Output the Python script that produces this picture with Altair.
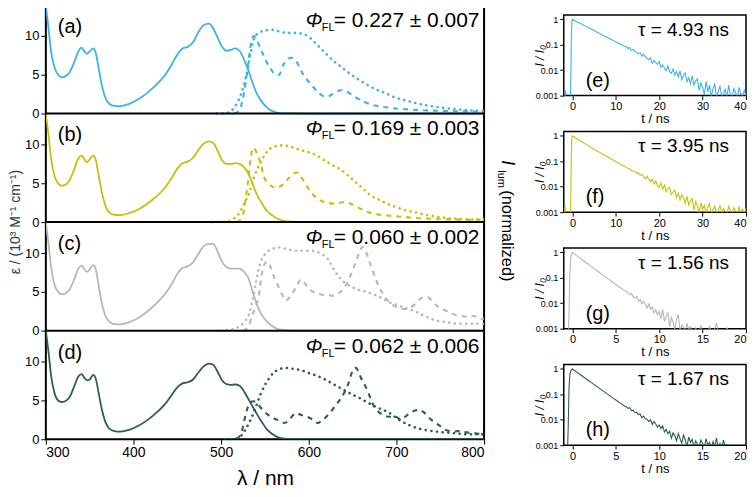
import altair as alt
import pandas as pd

FONT = "Liberation Sans"

# ---------------- absorption (shared wavelength grid) ----------------
ABS_NM = [300, 303, 306, 310, 314, 318, 322, 327, 333, 337,
          341, 344, 347, 350, 354, 357, 360, 364, 368, 372,
          378, 385, 395, 405, 415, 425, 435, 443, 450, 456,
          462, 468, 474, 480, 486, 491, 496, 501, 506, 511,
          516, 521, 526, 531, 536, 541, 546, 552, 558, 565,
          575, 600, 800]
abs_a = [14.0, 11.0, 8.0, 5.9, 5.0, 4.7, 4.8, 5.3, 6.8, 8.0,
         8.5, 8.0, 7.7, 8.0, 8.4, 7.8, 6.0, 3.6, 2.0, 1.3,
         1.0, 0.95, 1.25, 1.8, 2.6, 3.6, 4.8, 6.2, 7.6, 8.4,
         8.6, 9.2, 10.5, 11.4, 11.6, 11.0, 9.8, 8.6, 8.1, 8.2,
         8.4, 8.1, 7.0, 5.6, 3.9, 2.5, 1.6, 0.8, 0.35, 0.1,
         0.02, 0, 0]
abs_b = [14.0, 11.3, 8.2, 5.9, 5.0, 4.7, 4.8, 5.4, 7.0, 8.2,
         8.6, 8.1, 7.7, 8.1, 8.6, 8.0, 6.2, 3.8, 2.1, 1.3,
         0.95, 0.9, 1.15, 1.6, 2.3, 3.2, 4.3, 5.6, 6.9, 7.6,
         7.8, 8.3, 9.3, 10.1, 10.4, 10.2, 9.2, 8.0, 7.5, 7.5,
         7.6, 7.5, 7.1, 6.3, 4.9, 3.5, 2.5, 1.5, 0.9, 0.4,
         0.1, 0.01, 0]
abs_c = [14.0, 11.3, 8.2, 5.9, 5.0, 4.7, 4.8, 5.3, 6.8, 8.0,
         8.4, 7.9, 7.6, 7.9, 8.45, 7.9, 6.0, 3.5, 1.9, 1.2,
         0.85, 0.8, 1.1, 1.6, 2.4, 3.4, 4.6, 5.9, 7.3, 8.1,
         8.3, 8.8, 9.9, 10.9, 11.2, 11.2, 10.2, 8.9, 8.2, 8.0,
         8.0, 8.0, 7.6, 6.8, 5.0, 3.3, 2.1, 1.2, 0.6, 0.2,
         0.05, 0, 0]
abs_d = [14.0, 11.3, 8.2, 5.9, 5.0, 4.8, 4.9, 5.4, 7.0, 8.1,
         8.4, 7.9, 7.6, 7.7, 8.3, 7.8, 6.1, 3.8, 2.2, 1.4,
         1.05, 0.97, 1.2, 1.7, 2.4, 3.3, 4.4, 5.6, 6.7, 7.2,
         7.35, 7.7, 8.6, 9.4, 9.75, 9.6, 8.7, 7.6, 7.1, 7.0,
         7.06, 6.9, 6.2, 5.2, 4.2, 3.2, 2.3, 1.3, 0.7, 0.25,
         0.05, 0, 0]

# ---------------- emission (dotted) ----------------
dot_a_nm = [495, 505, 512, 518, 522, 526, 530, 534, 538, 543, 550, 558, 566, 575, 585,
            595, 603, 610, 618, 626, 635, 644, 654, 664, 675, 686, 698, 710, 722, 735,
            748, 760, 772, 785, 800]
dot_a = [0, 0.05, 0.4, 1.3, 2.3, 3.7, 5.6, 8.0, 9.8, 10.4, 10.7, 10.8, 10.6, 10.4, 10.4,
         10.2, 9.6, 8.8, 7.9, 7.0, 6.2, 5.4, 4.6, 3.9, 3.2, 2.7, 2.1, 1.7, 1.35, 1.05,
         0.8, 0.65, 0.5, 0.4, 0.3]
dot_b_nm = [490, 505, 512, 518, 523, 527, 532, 537, 541, 545, 550, 556, 563, 570, 577,
            585, 594, 603, 612, 620, 628, 636, 645, 655, 663, 670, 680, 689, 698, 708,
            720, 731, 743, 754, 765, 776, 788, 800]
dot_b = [0, 0.05, 0.3, 0.8, 1.6, 2.6, 3.7, 5.6, 6.8, 7.7, 8.7, 9.5, 9.8, 9.9, 9.8,
         9.5, 9.2, 8.9, 8.4, 7.8, 7.3, 6.8, 6.0, 5.0, 4.2, 3.5, 2.9, 2.4, 2.0, 1.6,
         1.3, 1.0, 0.75, 0.55, 0.45, 0.38, 0.34, 0.32]
dot_c_nm = [500, 510, 520, 527, 532, 536, 540, 545, 551, 558, 564, 572, 580, 588, 596,
            604, 611, 617, 622, 628, 634, 641, 648, 656, 663, 671, 678, 686, 693, 701,
            708, 716, 723, 734, 746, 757, 768, 780, 795, 800]
dot_c = [0, 0.1, 0.5, 1.2, 2.2, 4.0, 6.4, 8.8, 10.0, 10.5, 10.75, 10.6, 10.4, 10.3, 10.3,
         10.3, 10.1, 9.7, 9.2, 8.0, 7.0, 6.2, 5.7, 5.3, 5.1, 4.8, 4.5, 4.0, 3.6, 3.3,
         3.0, 2.7, 2.4, 1.8, 1.3, 1.1, 0.9, 0.9, 0.9, 0.9]
dot_d_nm = [505, 513, 519, 524, 529, 534, 540, 545, 550, 555, 560, 566, 573, 580, 587,
            594, 601, 609, 617, 625, 633, 641, 649, 658, 666, 674, 682, 692, 703, 715,
            728, 741, 752, 763, 774, 785, 794, 800]
dot_d = [0, 0.05, 0.15, 0.6, 1.5, 2.6, 4.3, 5.8, 7.0, 7.9, 8.6, 9.0, 9.2, 9.1, 9.0,
         8.8, 8.5, 8.2, 7.8, 7.3, 6.8, 6.3, 5.8, 5.3, 4.8, 4.3, 3.9, 3.4, 2.5, 1.8,
         1.3, 1.05, 0.9, 0.8, 0.7, 0.63, 0.63, 0.63]

# ---------------- emission (dashed) ----------------
dash_a_nm = [515, 520, 524, 528, 531, 534, 537, 540, 544, 548, 552, 556, 561, 566, 571,
             576, 580, 585, 590, 595, 600, 606, 612, 618, 624, 630, 636, 642, 648, 655,
             662, 670, 680, 692, 705, 720, 735, 750, 765, 780, 800]
dash_a = [0, 0.3, 1.5, 4.0, 6.5, 9.0, 10.0, 9.7, 8.6, 7.6, 6.6, 5.9, 5.1, 5.0, 6.3,
          7.0, 7.2, 6.9, 5.8, 4.8, 4.1, 3.3, 2.6, 2.2, 2.3, 2.7, 3.0, 2.9, 2.5, 2.0,
          1.6, 1.2, 0.95, 0.75, 0.6, 0.5, 0.4, 0.35, 0.3, 0.28, 0.25]
dash_b_nm = [518, 524, 528, 531, 534, 537, 541, 545, 549, 554, 560, 565, 570, 575, 581,
             587, 592, 597, 603, 609, 615, 621, 628, 635, 642, 649, 656, 663, 670, 678,
             690, 703, 715, 728, 742, 757, 772, 786, 800]
dash_b = [0, 0.6, 3.0, 5.5, 8.5, 9.6, 8.8, 7.6, 5.8, 5.0, 4.5, 4.5, 4.8, 5.4, 6.1,
          6.4, 5.7, 4.8, 3.8, 3.1, 2.7, 2.5, 2.4, 2.5, 2.6, 2.3, 1.9, 1.5, 1.2, 1.0,
          0.85, 0.72, 0.6, 0.5, 0.42, 0.35, 0.32, 0.3, 0.3]
dash_c_nm = [525, 531, 535, 539, 543, 546, 549, 553, 557, 561, 565, 569, 574, 580, 586,
             591, 595, 600, 605, 611, 616, 621, 627, 632, 638, 643, 648, 652, 656, 659,
             662, 665, 668, 672, 676, 680, 685, 690, 696, 702, 708, 714, 720, 726, 731,
             736, 740, 745, 750, 756, 762, 768, 774, 780, 786, 792, 798, 800]
dash_c = [0, 0.5, 1.8, 3.0, 4.5, 7.0, 8.5, 8.9, 8.0, 6.7, 5.8, 4.8, 3.9, 4.6, 5.7,
          6.6, 6.2, 5.4, 5.0, 4.8, 4.6, 4.6, 4.5, 4.7, 5.2, 6.0, 7.2, 8.4, 9.6, 10.5,
          10.8, 10.3, 9.3, 8.0, 6.8, 5.6, 4.7, 3.9, 3.3, 3.0, 2.8, 2.9, 3.3, 4.0, 4.3,
          4.3, 3.9, 3.3, 2.9, 2.6, 2.3, 2.0, 1.9, 1.8, 1.9, 1.8, 1.5, 1.6]
dash_d_nm = [518, 524, 528, 531, 534, 537, 541, 545, 549, 554, 560, 566, 572, 577, 582,
             586, 590, 595, 600, 605, 610, 615, 620, 625, 630, 635, 640, 644, 648, 651,
             654, 657, 660, 663, 666, 669, 672, 676, 681, 686, 691, 696, 701, 705, 710,
             716, 721, 726, 731, 736, 741, 746, 751, 756, 761, 766, 771, 776, 782, 788,
             794, 800]
dash_d = [0, 1.2, 3.2, 4.3, 4.8, 4.9, 4.6, 4.1, 3.6, 3.1, 2.7, 2.4, 2.1, 2.4, 3.1,
          3.4, 3.2, 3.0, 2.8, 2.5, 2.1, 2.4, 2.9, 3.5, 4.3, 5.0, 5.9, 6.8, 8.2, 9.1,
          9.2, 8.6, 7.8, 7.2, 6.5, 5.7, 4.8, 4.0, 3.4, 3.1, 2.9, 2.9, 2.8, 2.5, 2.9,
          3.4, 3.7, 3.8, 3.5, 2.9, 2.4, 2.0, 1.6, 1.2, 1.05, 1.0, 1.05, 0.95, 0.85, 0.8,
          0.7, 0.6]

# ---------------- decays ----------------
rise_e_t = [-2.0, -1.8, -1.6, -1.4, -1.0, -0.6, -0.45, -0.35, -0.25, -0.12]
rise_e_i = [0.0008, 0.0009, 0.0016, 0.0008, 0.0008, 0.0008, 0.0009, 0.008, 0.25, 0.8]
dec_e_step = 0.4
dec_e = [1.0, 0.92, 0.85, 0.78, 0.72, 0.67, 0.61, 0.57, 0.52, 0.48,
         0.44, 0.41, 0.38, 0.35, 0.32, 0.30, 0.27, 0.25, 0.23, 0.21,
         0.20, 0.18, 0.17, 0.155, 0.143, 0.132, 0.121, 0.112, 0.103, 0.095,
         0.088,
         0.085, 0.072, 0.079, 0.06, 0.066, 0.055, 0.05, 0.045, 0.049, 0.036,
         0.043, 0.033, 0.03, 0.026, 0.031, 0.019, 0.024, 0.02, 0.017, 0.022,
         0.013, 0.016, 0.012, 0.0095, 0.015, 0.0085, 0.0075, 0.011, 0.0065, 0.009,
         0.0055, 0.0095, 0.0042, 0.0065, 0.0078, 0.0035, 0.005, 0.003, 0.0062, 0.0026,
         0.0038, 0.0045, 0.0016, 0.0032, 0.0021, 0.0011, 0.0036, 0.0014, 0.0026, 0.0009,
         0.0019, 0.0028, 0.0008, 0.0015, 0.0023, 0.0009, 0.0012, 0.0018, 0.0008, 0.0026,
         0.0011, 0.0009, 0.0019, 0.0013, 0.0008, 0.0021, 0.0012, 0.0009, 0.0016, 0.001]

rise_f_t = [-2.0, -1.7, -1.5, -1.2, -0.8, -0.5, -0.45, -0.35, -0.25, -0.12]
rise_f_i = [0.0008, 0.0017, 0.0008, 0.0008, 0.0009, 0.0008, 0.0009, 0.008, 0.25, 0.8]
dec_f_step = 0.4
dec_f = [1.0, 0.908, 0.825, 0.75, 0.68, 0.62, 0.56, 0.51, 0.46, 0.42,
         0.38, 0.345, 0.315, 0.29, 0.262, 0.24, 0.22, 0.2, 0.183, 0.168,
         0.154, 0.141, 0.129, 0.118, 0.108, 0.099,
         0.088, 0.081, 0.075, 0.068, 0.064, 0.058, 0.053, 0.05, 0.044, 0.042,
         0.04, 0.034, 0.036, 0.028, 0.031, 0.025, 0.021, 0.026, 0.019, 0.016,
         0.02, 0.013, 0.017, 0.011, 0.0095, 0.014, 0.008, 0.0115, 0.0065, 0.0085,
         0.0095, 0.005, 0.0062, 0.0075, 0.0038, 0.0055, 0.003, 0.0048, 0.0036, 0.0022,
         0.0042, 0.0019, 0.0028, 0.0034, 0.0012, 0.0026, 0.0018, 0.0009, 0.0024, 0.0013,
         0.0019, 0.0009, 0.0016, 0.0021, 0.0008, 0.0013, 0.0017, 0.0009, 0.0012, 0.0018,
         0.0009, 0.0014, 0.0011, 0.0008, 0.0017, 0.0012, 0.0009, 0.0015, 0.0011, 0.0008,
         0.0016, 0.001, 0.0013, 0.0009, 0.0014]

rise_g_t = [-1.0, -0.8, -0.6, -0.45, -0.38, -0.3, -0.2, -0.1]
rise_g_i = [0.0008, 0.0008, 0.0008, 0.0009, 0.006, 0.15, 0.6, 0.9]
dec_g_step = 0.2
dec_g = [1.0, 0.89, 0.79, 0.705, 0.627, 0.558, 0.497, 0.442, 0.394, 0.35,
         0.312, 0.278, 0.247, 0.22, 0.196, 0.174, 0.155, 0.138, 0.123, 0.109,
         0.097, 0.087, 0.077, 0.069, 0.061, 0.055, 0.049, 0.044, 0.0396, 0.0355,
         0.032,
         0.03, 0.026, 0.022, 0.024, 0.018, 0.016, 0.019, 0.012, 0.0145, 0.0095,
         0.012, 0.0088, 0.0065, 0.0095, 0.0058, 0.0072, 0.0042, 0.0055, 0.0035, 0.0048,
         0.0025, 0.0058, 0.0019, 0.0032, 0.0042, 0.0012, 0.0028, 0.0018, 0.0009, 0.0024,
         0.0036, 0.0008, 0.0014, 0.0011, 0.0008, 0.0016, 0.0009, 0.0012, 0.0008, 0.0008,
         0.0011, 0.0008, 0.0008, 0.0013, 0.0008, 0.0009, 0.0008, 0.0008, 0.0012, 0.0008,
         0.0008, 0.001, 0.0017, 0.0008, 0.0008, 0.0009, 0.0008, 0.0008, 0.0011, 0.0008,
         0.0008, 0.0009, 0.0008, 0.0008, 0.0008, 0.0008, 0.0008, 0.0008, 0.0008, 0.0008]

rise_h_t = [-1.0, -0.8, -0.65, -0.55, -0.48, -0.4, -0.3, -0.15]
rise_h_i = [0.0008, 0.0008, 0.0008, 0.0009, 0.006, 0.15, 0.6, 0.9]
dec_h_step = 0.2
dec_h = [1.0, 0.894, 0.798, 0.713, 0.637, 0.569, 0.509, 0.455, 0.406, 0.363,
         0.324, 0.29, 0.259, 0.231, 0.207, 0.185, 0.165, 0.147, 0.132, 0.118,
         0.105, 0.094, 0.084, 0.075, 0.067, 0.06, 0.054, 0.048, 0.0435, 0.039,
         0.035,
         0.033, 0.028, 0.03, 0.023, 0.024, 0.019, 0.02, 0.016, 0.017, 0.012,
         0.014, 0.011, 0.0105, 0.0085, 0.01, 0.0065, 0.0085, 0.0068, 0.0052, 0.0062,
         0.0045, 0.0058, 0.0033, 0.0042, 0.0028, 0.0036, 0.0019, 0.0031, 0.0024, 0.0015,
         0.0029, 0.0018, 0.0012, 0.0025, 0.0016, 0.0009, 0.0021, 0.0013, 0.0017, 0.0008,
         0.0015, 0.0011, 0.0009, 0.0016, 0.0012, 0.0008, 0.0018, 0.001, 0.0013, 0.0008,
         0.0014, 0.0009, 0.0019, 0.0008, 0.0012, 0.0008, 0.0016, 0.0009, 0.0011]

PANELS = ["a", "b", "c", "d"]
COLORS = ["#3fb1ea", "#c2c20c", "#b3bbb1", "#2b5f57"]
PHI = ["= 0.227 ± 0.007", "= 0.169 ± 0.003", "= 0.060 ± 0.002", "= 0.062 ± 0.006"]
TAU = {"e": "τ = 4.93 ns", "f": "τ = 3.95 ns", "g": "τ = 1.56 ns", "h": "τ = 1.67 ns"}
PANEL_TOP = 14            # each left panel spans 0..14 in epsilon units
BOUNDARIES = [14, 28, 42]  # panel separators on the stacked axis
Y_TICKS = [0, 5, 10, 14, 19, 24, 28, 33, 38, 42, 47, 52]

ONE = pd.DataFrame({"k": [0]})
LW, LH = 440, 436
PH = LH / 4
RW, RH = 183, 81


def txt(s, x, y, size, align="left", style="normal", angle=0, baseline="middle", color="black"):
    return alt.Chart(ONE).mark_text(
        text=s, align=align, baseline=baseline, fontSize=size, fontStyle=style,
        angle=angle, color=color, font=FONT
    ).encode(x=alt.value(x), y=alt.value(y))


# ---------------- left: four stacked panels in one chart ----------------
frames = []
series = [(abs_a, dot_a_nm, dot_a, dash_a_nm, dash_a),
          (abs_b, dot_b_nm, dot_b, dash_b_nm, dash_b),
          (abs_c, dot_c_nm, dot_c, dash_c_nm, dash_c),
          (abs_d, dot_d_nm, dot_d, dash_d_nm, dash_d)]
for k, (av, dnm, dv, snm, sv) in enumerate(series):
    frames.append(pd.DataFrame({"nm": ABS_NM, "v": av, "kind": "abs", "p": PANELS[k], "i": k}))
    frames.append(pd.DataFrame({"nm": dnm, "v": dv, "kind": "dot", "p": PANELS[k], "i": k}))
    frames.append(pd.DataFrame({"nm": snm, "v": sv, "kind": "dash", "p": PANELS[k], "i": k}))
spec_df = pd.concat(frames, ignore_index=True)

x_enc = alt.X("nm:Q", scale=alt.Scale(domain=[300, 800], nice=False, zero=False),
              axis=alt.Axis(values=[300, 400, 500, 600, 700, 800], format="d", labelFontSize=14,
                            tickSize=5, labelPadding=1, title="λ / nm", titleFontSize=21,
                            titlePadding=8))
y_scale = alt.Scale(domain=[0, 4 * PANEL_TOP], nice=False)
y_axis = alt.Axis(values=Y_TICKS, labelExpr="'' + (datum.value % 14)", labelFontSize=13,
                  tickSize=5, labelPadding=2, title=None, labelOverlap=False)
y_enc = alt.Y("y:Q", scale=y_scale, axis=y_axis)
color_enc = alt.Color("p:N", scale=alt.Scale(domain=PANELS, range=COLORS), legend=None)

base = alt.Chart(spec_df).transform_calculate(
    y="datum.v + 14 * (3 - datum.i)"
).encode(x=x_enc, y=y_enc, color=color_enc, detail="p:N")

abs_layer = base.transform_filter("datum.kind == 'abs'").mark_line(
    strokeWidth=1.8, interpolate="monotone", clip=True)
dot_layer = base.transform_filter("datum.kind == 'dot'").mark_line(
    strokeWidth=2.6, strokeDash=[0.1, 5.6], strokeCap="round", interpolate="monotone", clip=True)
dash_layer = base.transform_filter("datum.kind == 'dash'").mark_line(
    strokeWidth=2.1, strokeDash=[5, 5], interpolate="monotone", clip=True)

sep = alt.Chart(pd.DataFrame({"y": BOUNDARIES})).mark_rule(color="black", strokeWidth=2).encode(
    y=y_enc)

left_texts = []
for k in range(4):
    top = k * PH
    left_texts += [
        txt("(" + PANELS[k] + ")", 12, top + 22, 20),
        txt("Φ", 261, top + 16, 20, style="italic"),
        txt("FL", 277, top + 23, 11),
        txt(PHI[k], 289, top + 16, 21),
    ]
left_texts += [
    txt("ε / (10³ M⁻¹ cm⁻¹)", -30, LH / 2, 14, align="center", angle=270, color="#1f3a44"),
    txt("I", 463, PH + 47, 18, style="italic", angle=90),
    txt("lum", 457, PH + 57, 11, angle=90),
    txt("(normalized)", 463, PH + 77, 16.5, angle=90),
]

left = alt.layer(abs_layer, dot_layer, dash_layer, sep, *left_texts).properties(
    width=LW, height=LH, view=alt.ViewBackground(stroke="black", strokeWidth=2))


# ---------------- right: four decay panels ----------------
def decay_df(rt, ri, step, vals):
    t = list(rt) + [round(k * step, 3) for k in range(len(vals))]
    return pd.DataFrame({"t": t, "I": list(ri) + list(vals)})


def right_panel(tag, color, df, xdom, xvals):
    line = alt.Chart(df).mark_line(color=color, strokeWidth=1.1, clip=True).encode(
        x=alt.X("t:Q", scale=alt.Scale(domain=xdom, nice=False, zero=False),
                axis=alt.Axis(values=xvals, format="d", labelFontSize=11, tickSize=4,
                              labelPadding=1, title="t / ns", titleFontSize=13, titlePadding=1)),
        y=alt.Y("I:Q", scale=alt.Scale(type="log", domain=[0.001, 1.5], nice=False),
                axis=alt.Axis(values=[0.001, 0.01, 0.1, 1], format="~g", labelFontSize=9,
                              tickSize=4, labelPadding=2, title="I / I₀", titleFontSize=12,
                              titleFontStyle="italic", titleX=-17, titleY=RH / 2,
                              titleAngle=270, titleBaseline="bottom", titleAlign="center")),
    )
    texts = [txt(TAU[tag], 166, 15, 19, align="right"),
             txt("(" + tag + ")", 22, 66, 20)]
    return alt.layer(line, *texts).properties(
        width=RW, height=RH, view=alt.ViewBackground(stroke="black", strokeWidth=1.5))


top_gap = alt.Chart(ONE).mark_rule(strokeOpacity=0).encode(
    x=alt.value(0), x2=alt.value(1), y=alt.value(1)
).properties(width=RW, height=4, view=alt.ViewBackground(stroke="transparent"))

right = alt.vconcat(
    top_gap,
    right_panel("e", COLORS[0], decay_df(rise_e_t, rise_e_i, dec_e_step, dec_e), [-2, 40],
                [0, 10, 20, 30, 40]),
    right_panel("f", COLORS[1], decay_df(rise_f_t, rise_f_i, dec_f_step, dec_f), [-2, 40],
                [0, 10, 20, 30, 40]),
    right_panel("g", COLORS[2], decay_df(rise_g_t, rise_g_i, dec_g_step, dec_g), [-1, 20],
                [0, 5, 10, 15, 20]),
    right_panel("h", COLORS[3], decay_df(rise_h_t, rise_h_i, dec_h_step, dec_h), [-1, 20],
                [0, 5, 10, 15, 20]),
    spacing=4,
)

chart = alt.hconcat(left, right, spacing=16).properties(
    padding={"left": 0, "top": -5, "right": 0, "bottom": 0}
).configure(font=FONT).configure_axis(
    domain=False, grid=False, tickColor="black", labelColor="black", titleColor="black",
    labelFont=FONT, titleFont=FONT, titleFontWeight="normal"
)

chart.save("out.html", embed_options={"renderer": "svg", "actions": False})
